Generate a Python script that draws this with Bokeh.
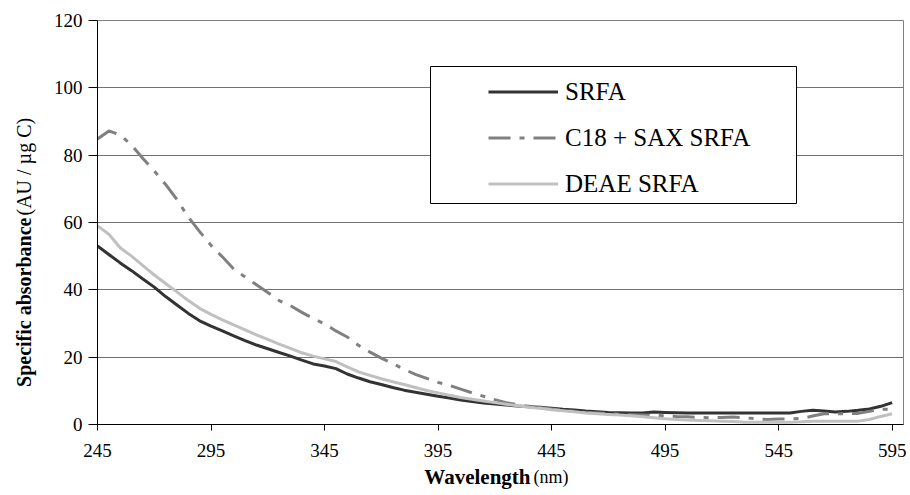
import math
from bokeh.plotting import figure
from bokeh.models import (Label, BoxAnnotation, Legend, LegendItem, FixedTicker,
                          Range1d, ColumnDataSource)
from bokeh.embed import file_html
from bokeh.resources import INLINE

# ---- data (5 nm steps) ----
wavelength = list(range(245, 600, 5))

srfa = [53.0, 50.5, 48.0, 45.7, 43.2, 40.8, 38.0, 35.5, 33.0, 30.8,
        29.2, 27.8, 26.3, 24.9, 23.6, 22.5, 21.4, 20.3, 19.1, 18.0,
        17.4, 16.6, 15.0, 13.8, 12.7, 11.9, 11.0, 10.2, 9.6, 9.0,
        8.4, 7.9, 7.3, 6.8, 6.4, 6.1, 5.8, 5.5, 5.3, 5.1,
        4.8, 4.5, 4.3, 4.0, 3.8, 3.6, 3.5, 3.4, 3.4, 3.7,
        3.6, 3.5, 3.4, 3.4, 3.4, 3.4, 3.4, 3.4, 3.4, 3.4,
        3.4, 3.4, 3.9, 4.2, 4.0, 3.7, 3.9, 4.2, 4.6, 5.4, 6.5]

c18_sax = [84.8, 87.2, 86.0, 83.0, 79.0, 75.3, 71.3, 66.8, 61.6, 57.3,
           53.2, 49.8, 46.2, 43.8, 41.5, 39.2, 36.8, 35.3, 33.3, 31.5,
           29.9, 27.8, 26.0, 23.5, 21.5, 19.7, 18.1, 16.4, 14.9, 13.7,
           12.5, 11.6, 10.5, 9.4, 8.4, 7.4, 6.5, 5.9, 5.4, 5.0,
           4.6, 4.2, 3.9, 3.6, 3.4, 3.2, 3.0, 2.9, 2.8, 2.7,
           2.6, 2.4, 2.3, 2.1, 2.0, 2.1, 2.2, 2.0, 1.7, 1.5,
           1.6, 1.7, 1.8, 2.5, 3.2, 3.2, 3.2, 3.3, 3.9, 4.5, 4.5]

deae = [59.0, 56.5, 52.5, 50.0, 47.2, 44.4, 41.9, 39.4, 36.8, 34.5,
        32.7, 31.1, 29.6, 28.1, 26.6, 25.3, 23.9, 22.6, 21.3, 20.3,
        19.5, 18.7, 17.1, 15.6, 14.6, 13.6, 12.7, 11.9, 11.0, 10.1,
        9.4, 8.7, 8.0, 7.5, 7.0, 6.5, 6.0, 5.6, 5.1, 4.8,
        4.4, 4.1, 3.8, 3.4, 3.2, 3.0, 2.8, 2.6, 2.3, 2.0,
        1.7, 1.5, 1.3, 1.2, 1.1, 1.0, 0.9, 0.7, 0.7, 0.7,
        0.7, 0.7, 0.8, 1.0, 1.0, 1.0, 1.0, 1.0, 1.5, 2.4, 3.2]

series_names = ["SRFA", "C18 + SAX SRFA", "DEAE SRFA"]
x_ticks = list(range(245, 600, 50))
y_ticks = list(range(0, 121, 20))

FONT = "Liberation Serif"

p = figure(width=910, height=495, output_backend="svg", toolbar_location=None,
           x_range=Range1d(245, 600), y_range=Range1d(0, 120))
p.min_border_left = 97
p.min_border_right = 7
p.min_border_top = 20
p.min_border_bottom = 71
p.background_fill_color = "white"
p.border_fill_color = "white"
p.outline_line_color = "#808080"
p.outline_line_width = 1

src = ColumnDataSource(dict(x=wavelength, srfa=srfa, c18=c18_sax, deae=deae))
r1 = p.line("x", "srfa", source=src, line_color="#333333", line_width=3)
r2 = p.line("x", "c18", source=src, line_color="#808080", line_width=3,
            line_dash="22 9 5 9")
r3 = p.line("x", "deae", source=src, line_color="#c0c0c0", line_width=3)

# axes
p.xaxis.ticker = FixedTicker(ticks=x_ticks)
p.yaxis.ticker = FixedTicker(ticks=y_ticks)
for ax in (p.xaxis, p.yaxis):
    ax.axis_line_color = "black"
    ax.axis_line_width = 1
    ax.major_tick_line_color = "black"
    ax.minor_tick_line_color = None
    ax.major_tick_in = 0
    ax.major_label_text_font = FONT
    ax.major_label_text_font_size = "19px"
    ax.major_label_text_color = "black"
p.yaxis.major_tick_out = 9
p.yaxis.major_label_standoff = 6
p.xaxis.major_tick_out = 6
p.xaxis.major_label_standoff = 13

p.xgrid.grid_line_color = None
p.ygrid.grid_line_color = "#707070"
p.ygrid.grid_line_width = 1

# axis titles (bold + regular parts), canvas pixel coordinates
p.add_layout(Label(x=530, y=476, x_units="canvas", y_units="canvas",
                   text="Wavelength", text_font=FONT, text_font_style="bold",
                   text_font_size="21px", text_align="right", text_baseline="middle",
                   text_color="black"), "below")
p.add_layout(Label(x=533, y=476, x_units="canvas", y_units="canvas",
                   text="(nm)", text_font=FONT, text_font_size="18px",
                   text_align="left", text_baseline="middle", text_color="black"), "above")
p.add_layout(Label(x=23, y=217, x_units="canvas", y_units="canvas",
                   text="Specific absorbance", text_font=FONT, text_font_style="bold",
                   text_font_size="20px", text_align="right", text_baseline="middle",
                   angle=math.pi / 2, text_color="black"), "left")
p.add_layout(Label(x=23, y=215, x_units="canvas", y_units="canvas",
                   text="(AU / µg C)", text_font=FONT,
                   text_font_size="20px", text_align="left", text_baseline="middle",
                   angle=math.pi / 2, text_color="black"), "left")

# legend frame
p.add_layout(BoxAnnotation(left=333, right=699, top=358, bottom=221,
                           left_units="screen", right_units="screen",
                           top_units="screen", bottom_units="screen",
                           fill_color="white", fill_alpha=1.0,
                           line_color="black", line_width=1, line_alpha=1.0))

legend = Legend(items=[LegendItem(label=series_names[0], renderers=[r1]),
                       LegendItem(label=series_names[1], renderers=[r2]),
                       LegendItem(label=series_names[2], renderers=[r3])],
                location=(391, 226), orientation="vertical",
                border_line_alpha=0, background_fill_alpha=0,
                padding=0, margin=0, spacing=17,
                glyph_width=70, glyph_height=29, label_height=29,
                label_standoff=7, label_text_font=FONT,
                label_text_font_size="25px", label_text_color="black")
p.add_layout(legend)

open("out.html", "w").write(file_html(p, INLINE))
